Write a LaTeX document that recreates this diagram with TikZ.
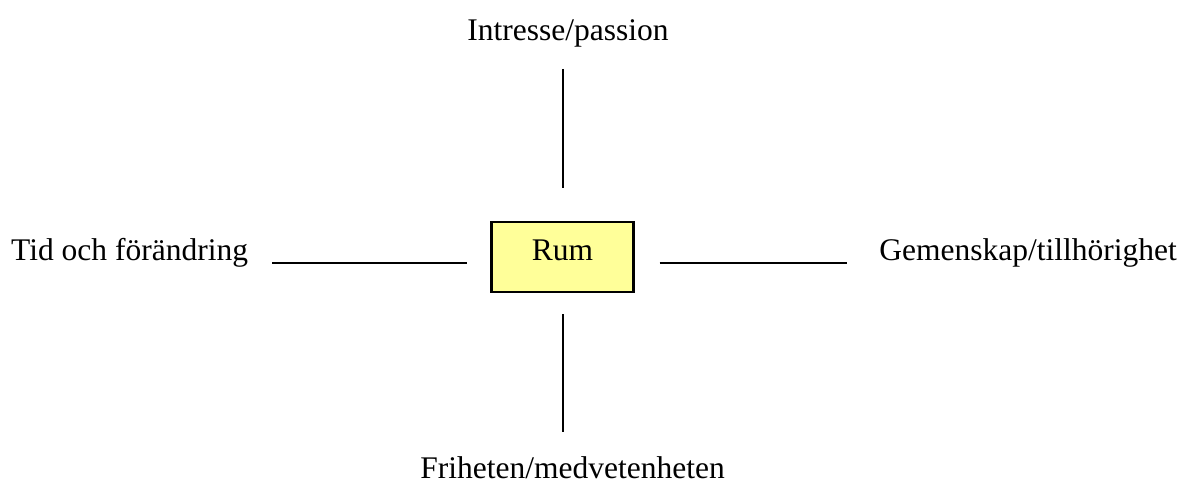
\documentclass[tikz,border=0pt]{standalone}
\usepackage{fontspec}
\setmainfont{Liberation Serif}
\definecolor{rumfill}{HTML}{FFFF99}
\tikzset{
  label/.style={inner sep=0pt, font=\fontsize{31.5}{36}\selectfont},
  rumbox/.style={label, draw, fill=rumfill, line width=2.4pt, text width=142pt, align=center, text height=38pt, text depth=32pt},
  link/.style={line width=2pt}
}
\begin{document}
\begin{tikzpicture}[x=1pt,y=-1pt]
\useasboundingbox (0,0) rectangle (1187,483);
\node[rumbox, anchor=base] (rum) at (562.5,260) {Rum};
\coordinate (axis) at (562.5,263);
\node[label, anchor=base] (intresse) at (568,40) {Intresse/passion};
\node[label, anchor=base] (frihet) at (572.5,478) {Friheten/medvetenheten};
\node[label, anchor=base west] (tid) at (11,260) {Tid och förändring};
\node[label, anchor=base east] (gemenskap) at (1177,260) {Gemenskap/tillhörighet};
\draw[link, shorten <=22pt, shorten >=33pt] (rum.north |- intresse.south) -- (rum.north);
\draw[link, shorten <=21pt, shorten >=24pt] (rum.south) -- (rum.south |- frihet.north);
\draw[link, shorten <=24pt, shorten >=23pt] (tid.east |- axis) -- (rum.west |- axis);
\draw[link, shorten <=25pt, shorten >=32pt] (rum.east |- axis) -- (gemenskap.west |- axis);
\end{tikzpicture}
\end{document}
